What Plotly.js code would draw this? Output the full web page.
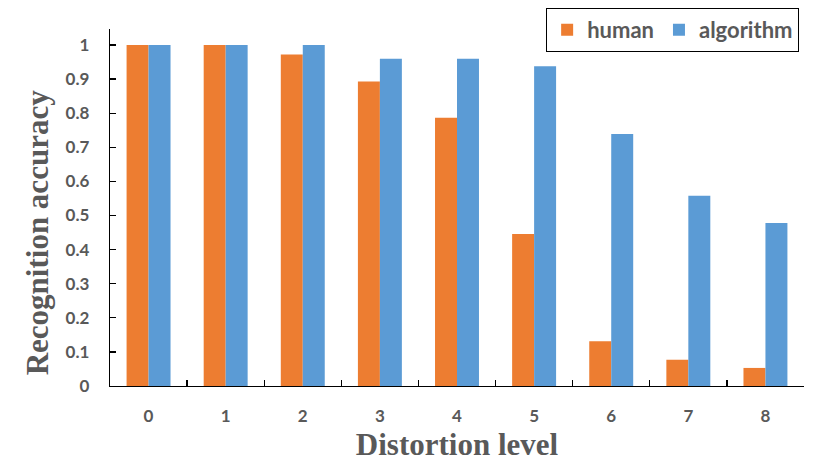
<!DOCTYPE html>
<html>
<head>
<meta charset="utf-8">
<script src="https://cdn.plot.ly/plotly-3.0.1.min.js"></script>
<style>html,body{margin:0;padding:0;background:#fff;}#chart{width:830px;height:467px;}</style>
</head>
<body>
<div id="chart"></div>
<script>
const categories = ["0", "1", "2", "3", "4", "5", "6", "7", "8"];
const humanValues = [1, 1, 0.972, 0.893, 0.787, 0.446, 0.131, 0.077, 0.053];
const algorithmValues = [1, 1, 1, 0.96, 0.96, 0.938, 0.739, 0.558, 0.478];
const yTickValues = [0, 0.1, 0.2, 0.3, 0.4, 0.5, 0.6, 0.7, 0.8, 0.9, 1];
const yTickLabels = ["0", "0.1", "0.2", "0.3", "0.4", "0.5", "0.6", "0.7", "0.8", "0.9", "1"];
const xTitle = "Distortion level";
const yTitle = "Recognition accuracy";

const tickFont = {family: "Lato, 'Open Sans', sans-serif", size: 17, color: "#595959", weight: "bold"};
const titleFont = {family: "'Liberation Serif', 'Times New Roman', serif", size: 31, color: "#595959", weight: "bold"};

const traces = [
  {type: "bar", name: "human", x: categories, y: humanValues,
   marker: {color: "#ED7D31", line: {width: 0}}},
  {type: "bar", name: "algorithm", x: categories, y: algorithmValues,
   marker: {color: "#5B9BD5", line: {width: 0}}}
];

const layout = {
  width: 830, height: 467,
  margin: {l: 110, r: 26, t: 29, b: 81, autoexpand: false},
  paper_bgcolor: "#ffffff", plot_bgcolor: "#ffffff",
  barmode: "group", bargap: 0.43, bargroupgap: 0,
  showlegend: true,
  legend: {
    orientation: "h", x: 0.993, xanchor: "right", y: 1.059, yanchor: "top",
    bordercolor: "#000000", borderwidth: 1, bgcolor: "#ffffff",
    font: {family: "Lato, 'Open Sans', sans-serif", size: 22, color: "#595959", weight: "bold"},
    itemwidth: 30, traceorder: "normal"
  },
  xaxis: {
    type: "category", range: [-0.5, 8.5],
    showline: true, linecolor: "#000000", linewidth: 1.3,
    ticks: "inside", ticklen: 6, tickcolor: "#000000", tickwidth: 1.3,
    tickson: "boundaries", showgrid: false, zeroline: false,
    tickfont: tickFont, ticklabelstandoff: 14, automargin: false,
    title: {text: xTitle, font: titleFont, standoff: 8}
  },
  yaxis: {
    range: [0, 1.047], tickvals: yTickValues, ticktext: yTickLabels,
    showline: true, linecolor: "#000000", linewidth: 1.3,
    ticks: "inside", ticklen: 6, tickcolor: "#000000", tickwidth: 1.3,
    showgrid: false, zeroline: false, automargin: false,
    tickfont: tickFont, ticklabelstandoff: 16
  },
  annotations: [{
    text: yTitle, textangle: -90, showarrow: false,
    xref: "paper", yref: "paper", x: -0.104, y: 0.43,
    xanchor: "center", yanchor: "middle", font: titleFont
  }]
};

Plotly.newPlot("chart", traces, layout, {displayModeBar: false, staticPlot: true});
</script>
</body>
</html>
